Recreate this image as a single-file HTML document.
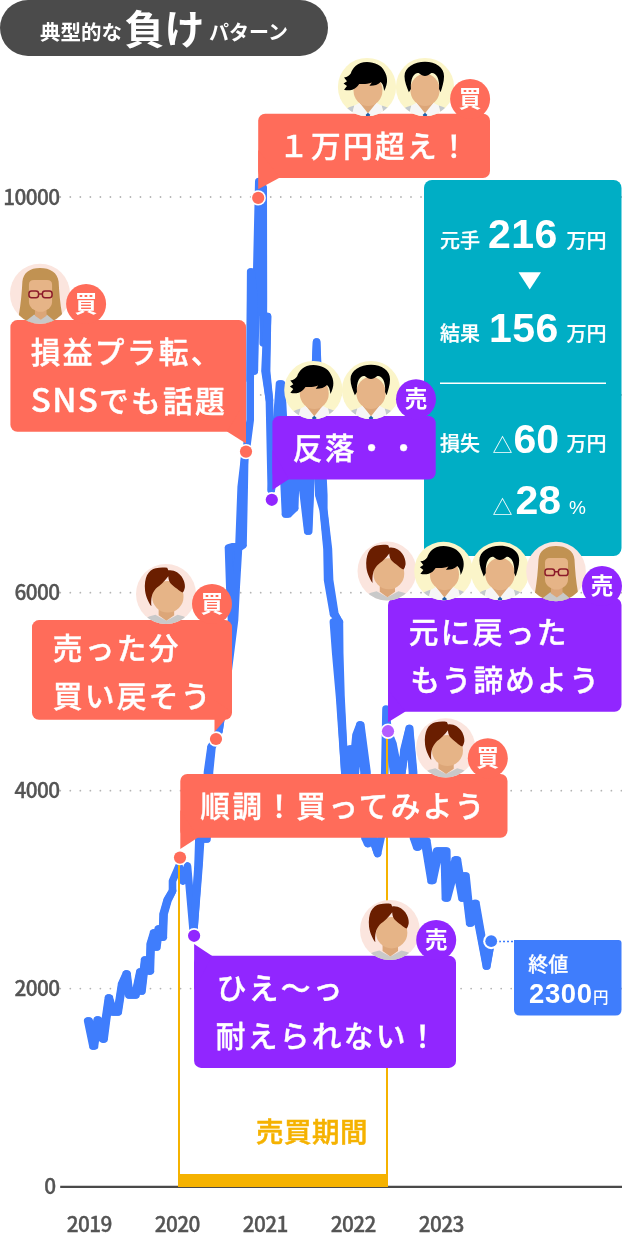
<!DOCTYPE html>
<html lang="ja"><head><meta charset="utf-8"><title>典型的な負けパターン</title>
<style>html,body{margin:0;padding:0;background:#fff}svg{display:block;will-change:transform}text{font-family:"Liberation Sans","Noto Sans CJK JP",sans-serif}.n{font-family:"Noto Sans CJK JP","Liberation Sans",sans-serif}</style>
</head><body>
<svg width="622" height="1240" viewBox="0 0 622 1240">

<defs>
<clipPath id="cc"><circle cx="0" cy="0" r="29.8"/></clipPath>
<g id="man1">
 <circle r="29.8" fill="#fbf5c9"/>
 <g clip-path="url(#cc)">
  <path d="M-27 31C-26 24-20 21-13 19L-16 31ZM29 31C28 24 22 21 15 19L18 31Z" fill="#c3c9ce"/>
  <path d="M-13 19L-7 16L1 27L9 16L15 19L18 31H-16Z" fill="#f6f6f6"/>
  <path d="M-7 10H9V17L1 27L-7 17Z" fill="#dca678"/>
  <path d="M-1.3 28.3L1 26.3L3.3 28.3L2.6 31H-0.6Z" fill="#1e5ea8"/>
  <ellipse cx="1" cy="3.5" rx="14.8" ry="16" fill="#e6b487"/>
  <path d="M0-25.5C8-25.5 15-22 18-16C21-11 22-4 17.5 4C17-1 16-3 14-5C11-2 7-1 2.5-1.2L5-4.5C0-2.5-4-3-8-3C-10 0-12 2-15 2.7C-18 3.5-21 3.5-23.5 2.7L-20.5-1L-24-3.7L-20.5-6L-23.5-9.8C-20-10-18-12-16.5-14C-15-19-10-25.5 0-25.5Z" fill="#000"/>
 </g>
</g>
<g id="man2">
 <circle r="29.8" fill="#fbf5c9"/>
 <g clip-path="url(#cc)">
  <path d="M-28 31C-27 24-21 21-14 19L-17 31ZM28 31C27 24 21 21 14 19L17 31Z" fill="#c3c9ce"/>
  <path d="M-14 19L-8 16L0 27L8 16L14 19L17 31H-17Z" fill="#f6f6f6"/>
  <path d="M-8 10H8V17L0 27L-8 17Z" fill="#dca678"/>
  <path d="M-2.3 28.3L0 26.3L2.3 28.3L1.6 31H-1.6Z" fill="#1e5ea8"/>
  <ellipse cx="0" cy="3" rx="15" ry="16.5" fill="#e6b487"/>
  <path d="M0-25.8C11-25.8 19.5-20 19.5-11C19.5-5 17.5 0 16 5.5L14.4 2C14.8-3 14-8 12.5-10.5C11-13.5 8.5-14.8 6.5-14.3C4-12.3 2-11.3 0-11.3C-2-11.3-4-12.3-6.5-14.3C-8.5-14.8-11-13.5-12.5-10.5C-14-8-14.8-3-14.4 2L-16.5 5.5C-18.5 0-21-5-21-11C-21-20-11-25.8 0-25.8Z" fill="#000"/>
 </g>
</g>
<g id="short">
 <circle r="29.8" fill="#fbe5de"/>
 <g clip-path="url(#cc)">
  <path d="M-26 31Q-24 23-10.5 20.5L0.4 26.5L11.5 20.5Q25 23 27 31Z" fill="#c9c9c9"/>
  <path d="M-7.3 10H8.1V21L0.4 26.5L-7.3 21Z" fill="#dca678"/>
  <ellipse cx="1.8" cy="2.7" rx="15.6" ry="15.7" fill="#e6b487"/>
  <path d="M-20.8-3.3C-21.5-10-20.5-15-18.9-18.7C-17-22.5-13.5-25-10.2-25.7C-6-26.6-2-26.6 1.2-26L2.3-23.5C5-24 8.5-23.3 11-21.6C14.5-19.3 16.8-16 17.8-12.9C18.6-10.5 19-8 18.7-6.2C18.3-4.2 17.6-2.6 16.8-1.4C14.8-2 12.8-3.6 11-5.2C8.5-7 6-9 4.2-11C3-13 2.3-15.5 2.3-17.7C0.5-15.5-1.5-13-3.5-11C-5.5-9-8.2-7.2-10.2-5.2C-12-3-13.5-0.5-14.1 2.5C-14.8 5.5-14.9 9-14.5 12.2C-16 10.5-17 8.5-17.9 6.4C-19.3 3.5-20.4 0-20.8-3.3Z" fill="#6a1e00"/>
 </g>
</g>
<g id="woman">
 <circle r="29.8" fill="#fbe5de"/>
 <g clip-path="url(#cc)">
  <path d="M0-25.5C10-25.5 17.5-21 18.5-12C19-2 20 10 22 21C22.5 25 20 28 14 29H-13C-19 28-21.5 25-21 21C-19 10-18-2-17.5-12C-16.5-21-10-25.5 0-25.5Z" fill="#c19252"/>
  <path d="M-19 31L-6 21H7L19 31Z" fill="#c8c8c8"/>
  <path d="M-5 14H6.5V22L0.8 26L-5 22Z" fill="#dca678"/>
  <path d="M-11-9Q-11-13.5-6-13.5H7Q12-13.5 12-9V8Q12 13 7 16L3 18H-2L-6 16Q-11 13-11 8Z" fill="#e6b487"/>
  <g fill="none" stroke="#8c1a2a" stroke-width="1.5"><rect x="-11" y="-2.6" width="9.6" height="6.6" rx="2.6"/><rect x="2.4" y="-2.6" width="9.6" height="6.6" rx="2.6"/><path d="M-1.4 0.2H2.4"/></g>
 </g>
</g>
</defs>

<rect width="622" height="1240" fill="#fff"/>
<rect x="0" y="0" width="328" height="56" rx="28" fill="#4b4b4b"/>
<text fill="#fff" font-weight="700"><tspan x="40" y="40" font-size="20.5">典型的な</tspan><tspan x="124.5" y="43.5" font-size="40">負け</tspan><tspan x="209" y="40" font-size="20">パターン</tspan></text>
<line x1="60.3" y1="197" x2="622" y2="197" stroke="#b4b4b4" stroke-width="1.8" stroke-dasharray="0 10.02" stroke-linecap="round"/>
<text x="59.5" y="204.5" font-size="20.8" font-weight="500" fill="#555" text-anchor="end" letter-spacing="-0.6" class="n" stroke="#555" stroke-width="0.35">10000</text>
<line x1="60.3" y1="394.9" x2="622" y2="394.9" stroke="#b4b4b4" stroke-width="1.8" stroke-dasharray="0 10.02" stroke-linecap="round"/>
<line x1="60.3" y1="592.7" x2="622" y2="592.7" stroke="#b4b4b4" stroke-width="1.8" stroke-dasharray="0 10.02" stroke-linecap="round"/>
<text x="59.5" y="600.2" font-size="20.8" font-weight="500" fill="#555" text-anchor="end" letter-spacing="-0.6" class="n" stroke="#555" stroke-width="0.35">6000</text>
<line x1="60.3" y1="790.7" x2="622" y2="790.7" stroke="#b4b4b4" stroke-width="1.8" stroke-dasharray="0 10.02" stroke-linecap="round"/>
<text x="59.5" y="798.2" font-size="20.8" font-weight="500" fill="#555" text-anchor="end" letter-spacing="-0.6" class="n" stroke="#555" stroke-width="0.35">4000</text>
<line x1="60.3" y1="988.6" x2="622" y2="988.6" stroke="#b4b4b4" stroke-width="1.8" stroke-dasharray="0 10.02" stroke-linecap="round"/>
<text x="59.5" y="996.1" font-size="20.8" font-weight="500" fill="#555" text-anchor="end" letter-spacing="-0.6" class="n" stroke="#555" stroke-width="0.35">2000</text>
<text x="56" y="1194" font-size="20.8" font-weight="500" fill="#555" text-anchor="end" class="n" stroke="#555" stroke-width="0.35">0</text>
<line x1="60.2" y1="1186.85" x2="622" y2="1186.85" stroke="#4a4a4a" stroke-width="2.2"/>
<text x="89.2" y="1231.7" font-size="20.8" font-weight="500" fill="#555" text-anchor="middle" letter-spacing="-0.6" class="n" stroke="#555" stroke-width="0.35">2019</text>
<text x="177.2" y="1231.7" font-size="20.8" font-weight="500" fill="#555" text-anchor="middle" letter-spacing="-0.6" class="n" stroke="#555" stroke-width="0.35">2020</text>
<text x="265.2" y="1231.7" font-size="20.8" font-weight="500" fill="#555" text-anchor="middle" letter-spacing="-0.6" class="n" stroke="#555" stroke-width="0.35">2021</text>
<text x="353.2" y="1231.7" font-size="20.8" font-weight="500" fill="#555" text-anchor="middle" letter-spacing="-0.6" class="n" stroke="#555" stroke-width="0.35">2022</text>
<text x="441.2" y="1231.7" font-size="20.8" font-weight="500" fill="#555" text-anchor="middle" letter-spacing="-0.6" class="n" stroke="#555" stroke-width="0.35">2023</text>
<polyline points="88.5,1021 93.7,1046 97.7,1020 103.3,1039 108.9,998 113,1012 117.8,1012 122.1,984 126.6,974 129.3,995 135.5,995 140.3,972 141.5,991 145.1,960 149.9,971 150.7,944 154,933 156.4,947 158.8,929 162.8,937 163.6,914 167.6,900 172.5,891 172.5,881 179,866 183,881 187.5,866 193.5,935 198.5,866 200,835 204,800 206,839 208.5,772 211.5,747 216,739 219,731 226,680 233,620 233,587 233.5,548 241,545 242.7,487 244.7,457 246,452 248,437 250.2,420 250.2,380 250.6,330 251,272 253,290 254.3,371 256,304 258.8,181.5 263.2,187.5 263.4,300 263.2,343 266.5,330 267.5,316.5 265.8,371 269.4,400 271.3,490 280.5,384 287,514 293.5,508 296,440 302,470 308.2,531 316.6,342 321.3,495 323.5,510 327.7,549 328.6,580 334.2,614 337.5,619 336.4,622 337.7,653 340.3,697 344.8,772 346,800 349,772 351.3,749 354,772 357,735 360.3,725 365.5,772 366,838 368,843.5 373,839 377.6,853.5 381,838 384.8,772 386,709 388,731.5 391.5,744 396,772 402,772 404.5,750 409.4,728.5 413,772 414.5,838 417.5,847 421,839 425.7,841 432,880.5 438,851 445.5,851 446.4,898 456.3,860 462.7,898 465,876 470.3,923 475.2,903.5 486.6,966 491.2,941.2" fill="none" stroke="#3f7dfc" stroke-width="7.6" stroke-linejoin="round" stroke-linecap="round"/>
<path d="M87.7 1021L89.3 1021L94.5 1046L92.9 1046ZM92.9 1046L94.5 1046L98.2 1020L97.2 1020ZM97.2 1020L98.2 1020L104.1 1039L102.5 1039ZM102.5 1039L104.1 1039L109.4 998L108.4 998ZM108.4 998L109.4 998L113.5 1012L112.5 1012ZM112.5 1012L113.5 1012L118.3 1012L117.3 1012ZM117.3 1012L118.3 1012L122.6 984L121.6 984ZM121.6 984L122.6 984L127.1 974L126.1 974ZM126.1 974L127.1 974L129.8 995L128.8 995ZM128.8 995L129.8 995L136.0 995L135.0 995ZM135.0 995L136.0 995L140.8 972L139.8 972ZM139.8 972L140.8 972L142.0 991L141.0 991ZM141.0 991L142.0 991L145.6 960L144.6 960ZM144.6 960L145.6 960L150.4 971L149.4 971ZM149.4 971L150.4 971L151.2 944L150.2 944ZM150.2 944L151.2 944L154.5 933L153.5 933ZM153.5 933L154.5 933L156.9 947L155.9 947ZM155.9 947L156.9 947L159.3 929L158.3 929ZM158.3 929L159.3 929L163.3 937L162.3 937ZM162.3 937L163.3 937L164.1 914L163.1 914ZM163.1 914L164.1 914L168.1 900L167.1 900ZM167.1 900L168.1 900L172.5 891L172.5 891ZM193.5 935L193.5 935L199.0 866L198.0 866ZM198.0 866L199.0 866L201.0 835L199.0 835ZM199.0 835L201.0 835L205.0 800L203.0 800ZM203.0 800L205.0 800L207.0 839L205.0 839ZM205.0 839L207.0 839L209.5 772L207.5 772ZM207.5 772L209.5 772L212.0 747L211.0 747ZM211.0 747L212.0 747L216.0 739L216.0 739ZM219.0 731L219.0 731L227.0 680L225.0 680ZM225.0 680L227.0 680L234.5 620L231.5 620ZM231.5 620L234.5 620L236.2 587L229.8 587ZM229.8 587L236.2 587L238.5 548L228.5 548ZM228.5 548L238.5 548L243.0 545L239.0 545ZM239.0 545L243.0 545L244.2 487L241.2 487ZM241.2 487L244.2 487L244.7 457L244.7 457ZM250.2 380L250.2 380L250.9 330L250.3 330ZM250.3 330L250.9 330L251.3 272L250.7 272ZM250.7 272L251.3 272L253.3 290L252.7 290ZM252.7 290L253.3 290L254.3 371L254.3 371ZM267.5 316.5L267.5 316.5L266.6 371L265.0 371ZM265.0 371L266.6 371L269.4 400L269.4 400ZM271.3 490L271.3 490L281.5 384L279.5 384ZM279.5 384L281.5 384L288.5 514L285.5 514ZM285.5 514L288.5 514L294.7 508L292.3 508ZM292.3 508L294.7 508L297.0 440L295.0 440ZM295.0 440L297.0 440L303.5 470L300.5 470ZM300.5 470L303.5 470L308.7 531L307.7 531ZM307.7 531L308.7 531L316.6 342L316.6 342ZM316.6 342L316.6 342L323.8 495L318.8 495ZM318.8 495L323.8 495L323.8 510L323.2 510ZM323.2 510L323.8 510L328.4 549L327.0 549ZM327.0 549L328.4 549L329.6 580L327.6 580ZM327.6 580L329.6 580L334.9 614L333.5 614ZM333.5 614L334.9 614L337.5 619L337.5 619ZM337.5 619L337.5 619L339.4 622L333.4 622ZM333.4 622L339.4 622L339.7 653L335.7 653ZM335.7 653L339.7 653L341.0 697L339.6 697ZM339.6 697L341.0 697L344.8 772L344.8 772ZM346.0 800L346.0 800L350.5 772L347.5 772ZM347.5 772L350.5 772L352.8 749L349.8 749ZM349.8 749L352.8 749L355.5 772L352.5 772ZM352.5 772L355.5 772L358.0 735L356.0 735ZM356.0 735L358.0 735L360.8 725L359.8 725ZM359.8 725L360.8 725L367.0 772L364.0 772ZM364.0 772L367.0 772L367.0 838L365.0 838ZM365.0 838L367.0 838L368.5 843.5L367.5 843.5ZM367.5 843.5L368.5 843.5L373.5 839L372.5 839ZM372.5 839L373.5 839L377.6 853.5L377.6 853.5ZM388.0 731.5L388.0 731.5L393.0 744L390.0 744ZM390.0 744L393.0 744L398.5 772L393.5 772ZM393.5 772L398.5 772L402.0 772L402.0 772ZM402.0 772L402.0 772L405.1 750L403.9 750ZM403.9 750L405.1 750L409.6 728.5L409.2 728.5ZM409.2 728.5L409.6 728.5L413.6 772L412.4 772ZM412.4 772L413.6 772L415.5 838L413.5 838ZM413.5 838L415.5 838L418.3 847L416.7 847ZM416.7 847L418.3 847L422.0 839L420.0 839ZM420.0 839L422.0 839L426.9 841L424.5 841ZM424.5 841L426.9 841L433.0 880.5L431.0 880.5ZM431.0 880.5L433.0 880.5L439.3 851L436.7 851ZM436.7 851L439.3 851L446.8 851L444.2 851ZM444.2 851L446.8 851L447.4 898L445.4 898ZM445.4 898L447.4 898L457.5 860L455.1 860ZM455.1 860L457.5 860L463.5 898L461.9 898ZM461.9 898L463.5 898L466.0 876L464.0 876ZM464.0 876L466.0 876L470.9 923L469.7 923ZM469.7 923L470.9 923L476.0 903.5L474.4 903.5ZM474.4 903.5L476.0 903.5L486.9 966L486.3 966ZM486.3 966L486.9 966L491.2 941.2L491.2 941.2Z" fill="#3f7dfc" stroke="#3f7dfc" stroke-width="7.6" stroke-linejoin="round"/>
<rect x="178" y="1174" width="210" height="13" fill="#f5b200"/>
<line x1="179" y1="858" x2="179" y2="1187" stroke="#f5b200" stroke-width="2"/>
<line x1="387" y1="732" x2="387" y2="1187" stroke="#f5b200" stroke-width="2"/>
<text x="312" y="1141.5" font-size="27.5" font-weight="500" fill="#f5b200" text-anchor="middle" letter-spacing="0.5" stroke="#f5b200" stroke-width="0.5">売買期間</text>
<rect x="424" y="180" width="197.5" height="376" rx="8" fill="#00aec5"/>
<text x="440" y="248" font-size="20" font-weight="500" fill="#fff" text-anchor="start" stroke="#fff" stroke-width="0.25">元手</text>
<text x="488" y="248.3" font-size="41" font-weight="700" fill="#fff" text-anchor="start" letter-spacing="0.5">216</text>
<text x="566.5" y="248" font-size="20" font-weight="500" fill="#fff" text-anchor="start" stroke="#fff" stroke-width="0.25">万円</text>
<polygon points="518.5,272.3 541,272.3 529.7,289.5" fill="#fff"/>
<text x="440" y="341" font-size="20" font-weight="500" fill="#fff" text-anchor="start" stroke="#fff" stroke-width="0.25">結果</text>
<text x="489" y="341.5" font-size="41" font-weight="700" fill="#fff" text-anchor="start" letter-spacing="0.5">156</text>
<text x="566.5" y="341" font-size="20" font-weight="500" fill="#fff" text-anchor="start" stroke="#fff" stroke-width="0.25">万円</text>
<line x1="440" y1="383.2" x2="606" y2="383.2" stroke="#fff" stroke-width="1.5"/>
<text x="440" y="451" font-size="20" font-weight="500" fill="#fff" text-anchor="start" stroke="#fff" stroke-width="0.25">損失</text>
<text x="492.5" y="452.5" font-size="20" font-weight="400" fill="#fff" text-anchor="start">△</text>
<text x="513.4" y="452.5" font-size="41" font-weight="700" fill="#fff" text-anchor="start">60</text>
<text x="566.5" y="451" font-size="20" font-weight="500" fill="#fff" text-anchor="start" stroke="#fff" stroke-width="0.25">万円</text>
<text x="492.5" y="514.5" font-size="20" font-weight="400" fill="#fff" text-anchor="start">△</text>
<text x="515.5" y="514.3" font-size="41" font-weight="700" fill="#fff" text-anchor="start">28</text>
<text x="569" y="513.5" font-size="19" font-weight="400" fill="#fff" text-anchor="start">%</text>
<line x1="499" y1="941.5" x2="516" y2="941.5" stroke="#3f7dfc" stroke-width="1.6" stroke-dasharray="2 2"/>
<path d="M514 940H618.5Q621.5 940 621.5 943V1009.5Q621.5 1015.5 615.5 1015.5H520Q514 1015.5 514 1009.5Z" fill="#3f7dfc"/>
<text x="528.3" y="972" font-size="20" font-weight="500" fill="#fff" text-anchor="start" stroke="#fff" stroke-width="0.25">終値</text>
<text x="529" y="1003" fill="#fff" font-weight="700"><tspan font-size="27.5" letter-spacing="0.6">2300</tspan><tspan font-size="15.5" font-weight="500" dx="0.5" dy="-0.5">円</tspan></text>
<circle cx="491.2" cy="941.2" r="8" fill="#fff"/><circle cx="491.2" cy="941.2" r="5.9" fill="#3f7dfc"/>
<circle cx="258.2" cy="197.9" r="7.7" fill="#fff"/><circle cx="258.2" cy="197.9" r="6.1" fill="#ff6c5a"/>
<circle cx="246" cy="451.6" r="7.7" fill="#fff"/><circle cx="246" cy="451.6" r="6.1" fill="#ff6c5a"/>
<circle cx="271.8" cy="499.8" r="7.7" fill="#fff"/><circle cx="271.8" cy="499.8" r="6.1" fill="#9126ff"/>
<circle cx="216" cy="739" r="7.7" fill="#fff"/><circle cx="216" cy="739" r="6.1" fill="#ff6c5a"/>
<circle cx="388" cy="731.2" r="7.7" fill="#fff"/><circle cx="388" cy="731.2" r="6.1" fill="#b45cff"/>
<circle cx="180" cy="857.6" r="7.7" fill="#fff"/><circle cx="180" cy="857.6" r="6.1" fill="#ff6c5a"/>
<circle cx="194.1" cy="935.8" r="7.7" fill="#fff"/><circle cx="194.1" cy="935.8" r="6.1" fill="#9126ff"/>
<rect x="258.2" y="113.8" width="231.8" height="64.2" rx="7" fill="#ff6c5a"/><polygon points="258.2,150 258.2,189.3 280,177.5" fill="#ff6c5a"/>
<use href="#man1" transform="translate(367 87) scale(0.9765)"/>
<use href="#man2" transform="translate(425 87) scale(0.9765)"/>
<circle cx="470.1" cy="99" r="20" fill="#ff6c5a"/><text x="470.1" y="107" font-size="22.5" font-weight="700" fill="#fff" text-anchor="middle">買</text>
<text x="375" y="157.3" font-size="29.7" font-weight="500" fill="#fff" text-anchor="middle" letter-spacing="2.3" stroke="#fff" stroke-width="0.4">１万円超え！</text>
<rect x="10.4" y="320.1" width="235.6" height="111.69999999999999" rx="7" fill="#ff6c5a"/><polygon points="246,400 246,443.5 227,431.5" fill="#ff6c5a"/>
<use href="#woman" transform="translate(40 293.7) scale(1.0067)"/>
<circle cx="86.1" cy="304" r="20" fill="#ff6c5a"/><text x="86.1" y="312" font-size="22.5" font-weight="700" fill="#fff" text-anchor="middle">買</text>
<text x="30.8" y="362.7" font-size="29.7" font-weight="500" fill="#fff" text-anchor="start" letter-spacing="2.3" stroke="#fff" stroke-width="0.4">損益プラ転、</text>
<text x="30.8" y="412" font-size="29.7" font-weight="500" fill="#fff" text-anchor="start" letter-spacing="2.3" stroke="#fff" stroke-width="0.4"><tspan class="n" font-size="33" letter-spacing="1.3">SNS</tspan>でも話題</text>
<rect x="272.4" y="416.1" width="163.3" height="63.5" rx="7" fill="#9126ff"/><polygon points="272.4,450 272.4,490 288.8,479.3" fill="#9126ff"/>
<use href="#man1" transform="translate(313.3 390) scale(0.9765)"/>
<use href="#man2" transform="translate(371 390) scale(0.9765)"/>
<circle cx="416" cy="399.2" r="20" fill="#9126ff"/><text x="416" y="407.2" font-size="22.5" font-weight="700" fill="#fff" text-anchor="middle">売</text>
<text x="292.8" y="458.8" font-size="29.7" font-weight="500" fill="#fff" text-anchor="start" letter-spacing="2.3" stroke="#fff" stroke-width="0.4">反落・・</text>
<rect x="388" y="598" width="233.5" height="113.79999999999995" rx="7" fill="#9126ff"/><polygon points="388,690 388,722.3 405.5,711.5" fill="#9126ff"/>
<use href="#short" transform="translate(387 571) scale(0.9899)"/>
<use href="#man1" transform="translate(443.5 571) scale(0.9832)"/>
<use href="#man2" transform="translate(500 571) scale(0.9832)"/>
<use href="#woman" transform="translate(556 571.5) scale(1.0000)"/>
<circle cx="602" cy="586.1" r="20" fill="#9126ff"/><text x="602" y="594.1" font-size="22.5" font-weight="700" fill="#fff" text-anchor="middle">売</text>
<text x="408.8" y="642.8" font-size="29.7" font-weight="500" fill="#fff" text-anchor="start" letter-spacing="2.3" stroke="#fff" stroke-width="0.4">元に戻った</text>
<text x="410.3" y="691.3" font-size="29.7" font-weight="500" fill="#fff" text-anchor="start" letter-spacing="2.3" stroke="#fff" stroke-width="0.4">もう諦めよう</text>
<rect x="32" y="620.1" width="200" height="99.69999999999993" rx="7" fill="#ff6c5a"/><polygon points="214.5,700 214.5,732 232,712" fill="#ff6c5a"/>
<use href="#short" transform="translate(166 594) scale(1.0067)"/>
<circle cx="212" cy="604" r="20" fill="#ff6c5a"/><text x="212" y="612" font-size="22.5" font-weight="700" fill="#fff" text-anchor="middle">買</text>
<text x="52.8" y="658.8" font-size="29.7" font-weight="500" fill="#fff" text-anchor="start" letter-spacing="2.3" stroke="#fff" stroke-width="0.4">売った分</text>
<text x="52.8" y="707.3" font-size="29.7" font-weight="500" fill="#fff" text-anchor="start" letter-spacing="2.3" stroke="#fff" stroke-width="0.4">買い戻そう</text>
<rect x="180.3" y="774" width="327.2" height="63.799999999999955" rx="7" fill="#ff6c5a"/><polygon points="180.3,810 180.3,849 198,837.5" fill="#ff6c5a"/>
<use href="#short" transform="translate(445.7 747.8) scale(0.9933)"/>
<circle cx="487.8" cy="758.2" r="20" fill="#ff6c5a"/><text x="487.8" y="766.2" font-size="22.5" font-weight="700" fill="#fff" text-anchor="middle">買</text>
<text x="200.3" y="817.3" font-size="29.7" font-weight="500" fill="#fff" text-anchor="start" letter-spacing="2.3" stroke="#fff" stroke-width="0.4">順調！買ってみよう</text>
<rect x="194.1" y="955.7" width="261.9" height="112.20000000000005" rx="7" fill="#9126ff"/><polygon points="194.1,990 194.1,944.1 212.2,956" fill="#9126ff"/>
<use href="#short" transform="translate(389.9 930) scale(1.0034)"/>
<circle cx="436.2" cy="940" r="20" fill="#9126ff"/><text x="436.2" y="948" font-size="22.5" font-weight="700" fill="#fff" text-anchor="middle">売</text>
<text x="216.8" y="999.3" font-size="29.7" font-weight="500" fill="#fff" text-anchor="start" letter-spacing="2.3" stroke="#fff" stroke-width="0.4">ひえ〜っ</text>
<text x="215.8" y="1047.3" font-size="29.7" font-weight="500" fill="#fff" text-anchor="start" letter-spacing="2.3" stroke="#fff" stroke-width="0.4">耐えられない！</text>
</svg>
</body></html>
